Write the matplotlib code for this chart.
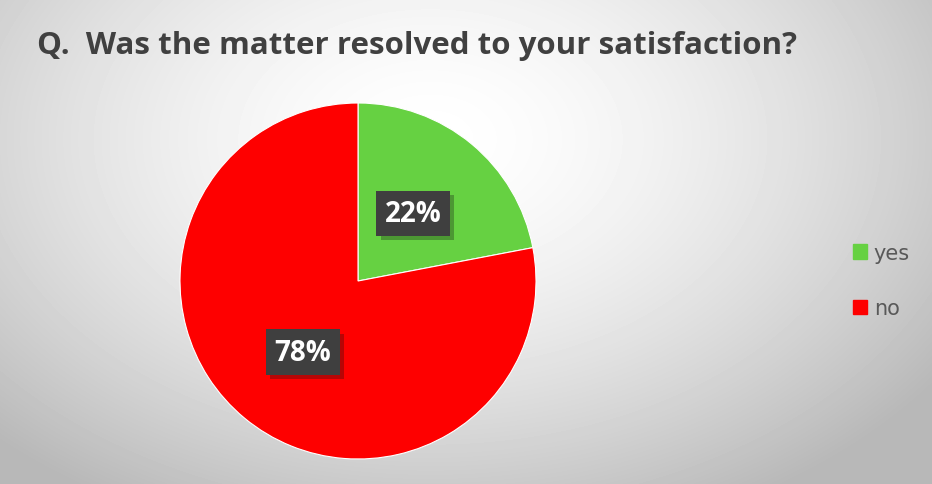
import matplotlib
matplotlib.use('Agg')

import matplotlib.pyplot as plt
import matplotlib.patheffects as pe
import numpy as np

labels = ['yes', 'no']
shares = [22, 78]
colors = ['#66d142', '#fe0000']

fig = plt.figure(figsize=(9.32, 4.85), dpi=100)

# soft radial background, light near the top centre and grey at the edges
bg = fig.add_axes([0, 0, 1, 1])
yy, xx = np.mgrid[0:485, 0:932]
r = np.sqrt(((xx - 430) / 620.0) ** 2 + ((yy - 140) / 420.0) ** 2)
shade = np.clip(1.0 - 0.28 * r ** 1.6, 0.72, 1.0)
bg.imshow(shade, cmap='gray', vmin=0, vmax=1, aspect='auto', extent=[0, 932, 485, 0])
bg.set_axis_off()

ax = fig.add_axes([(358 - 178) / 932, (485 - 460) / 485, 356 / 932, 356 / 485])
wedges, _ = ax.pie(shares, colors=colors, startangle=90, counterclock=False,
                   wedgeprops=dict(linewidth=0.8, edgecolor='white'))
ax.set_xlim(-1, 1)
ax.set_ylim(-1, 1)
ax.set_aspect('equal')

# value tags: dark boxes with a slight drop shadow
tag_pos = [(0.31, 0.38), (-0.31, -0.40)]
for (tx, ty), v in zip(tag_pos, shares):
    t = ax.text(tx, ty, f'{v}%', ha='center', va='center', fontsize=20,
                fontweight='bold', color='white', family='Open Sans',
                bbox=dict(boxstyle='square,pad=0.3', facecolor='#3f3f3f',
                          edgecolor='none'))
    t.get_bbox_patch().set_path_effects(
        [pe.SimplePatchShadow(offset=(3, -3), alpha=0.3), pe.Normal()])

fig.text(0.040, 0.905, 'Q.  Was the matter resolved to your satisfaction?',
         fontsize=22.5, fontweight='bold', color='#404040', family='Open Sans',
         va='center')

handles = [plt.Rectangle((0, 0), 1, 1, color=c) for c in colors]
fig.legend(handles, labels, loc='center left', bbox_to_anchor=(0.895, 0.419),
           frameon=False, fontsize=15, handlelength=0.7, handleheight=0.7,
           handletextpad=0.3, labelspacing=1.7, labelcolor='#595959')

fig.savefig('out.png', dpi=100)
plt.close(fig)
